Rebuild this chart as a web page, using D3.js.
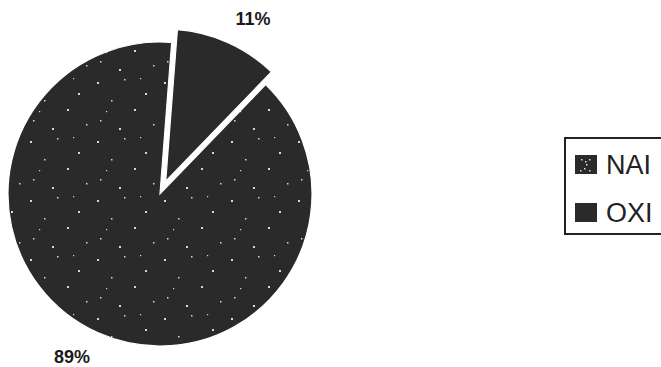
<!DOCTYPE html>
<html>
<head>
<meta charset="utf-8">
<script src="https://cdn.jsdelivr.net/npm/d3@7/dist/d3.min.js"></script>
<style>
  html, body { margin: 0; padding: 0; background: #fff; }
  svg { display: block; }
</style>
</head>
<body>
<svg id="chart" width="661" height="367"></svg>
<script>
// ---- data ----
const categories = ["OXI", "NAI"];
const values = [11, 89];
const labels = ["11%", "89%"];
const legendOrder = ["NAI", "OXI"];

// ---- layout ----
const W = 661, H = 367;
const cx = 160, cy = 194, R = 152;
const explodeOffset = 14;
const startDeg = 4.4;

const svg = d3.select("#chart");
const defs = svg.append("defs");

// sparse speckle pattern for NAI (pie)
const pat = defs.append("pattern")
  .attr("id", "speckle")
  .attr("patternUnits", "userSpaceOnUse")
  .attr("width", 67).attr("height", 59);
pat.append("rect").attr("width", 67).attr("height", 59).attr("fill", "#2a2a2a");
const dots = [[4,6,2],[31,3,1.5],[52,17,2],[18,24,1.5],[41,33,2],[7,44,1.5],[60,48,1.5],[26,52,2],[47,2,1.2],[13,35,1.2]];
pat.selectAll("rect.d").data(dots).enter().append("rect")
  .attr("class", "d")
  .attr("x", d => d[0]).attr("y", d => d[1])
  .attr("width", d => d[2]).attr("height", d => d[2])
  .attr("fill", "#d8d8d8");

// speckle pattern for the legend swatch
const pat2 = defs.append("pattern")
  .attr("id", "speckleSwatch")
  .attr("patternUnits", "objectBoundingBox")
  .attr("patternContentUnits", "userSpaceOnUse")
  .attr("width", 1).attr("height", 1);
pat2.append("rect").attr("width", 22).attr("height", 19).attr("fill", "#2a2a2a");
const swDots = [[6,4],[10,6],[14,4],[11,9],[9,13],[5,15],[14,15]];
pat2.selectAll("rect.d").data(swDots).enter().append("rect")
  .attr("class", "d")
  .attr("x", d => d[0]).attr("y", d => d[1])
  .attr("width", 1.5).attr("height", 1.5)
  .attr("fill", "#d8d8d8");

const fills = { OXI: "#2a2a2a", NAI: "url(#speckle)" };
const swatchFills = { OXI: "#2a2a2a", NAI: "url(#speckleSwatch)" };

const pie = d3.pie().sort(null).value(d => d.value)
  .startAngle(startDeg * Math.PI / 180)
  .endAngle(startDeg * Math.PI / 180 + 2 * Math.PI);
const data = categories.map((c, i) => ({ cat: c, value: values[i], label: labels[i] }));
const arcs = pie(data);
const arc = d3.arc().innerRadius(0).outerRadius(R);

const g = svg.append("g").attr("transform", `translate(${cx},${cy})`);
g.selectAll("path").data(arcs).enter().append("path")
  .attr("d", arc)
  .attr("fill", d => fills[d.data.cat])
  .attr("stroke", "#fff")
  .attr("stroke-width", 1.2)
  .attr("transform", d => {
    if (d.data.cat !== "OXI") return null;
    const a = (d.startAngle + d.endAngle) / 2;
    return `translate(${explodeOffset * Math.sin(a)},${-explodeOffset * Math.cos(a)})`;
  });

// percent labels
const labelPos = { OXI: [253, 25], NAI: [72, 363] };
svg.selectAll("text.pct").data(arcs).enter().append("text")
  .attr("class", "pct")
  .attr("x", d => labelPos[d.data.cat][0])
  .attr("y", d => labelPos[d.data.cat][1])
  .attr("text-anchor", "middle")
  .attr("font-family", "Liberation Sans, Arial, sans-serif")
  .attr("font-weight", "bold")
  .attr("font-size", 18)
  .attr("fill", "#1a1a1a")
  .text(d => d.data.label);

// legend
const lg = svg.append("g");
lg.append("rect")
  .attr("x", 565).attr("y", 138).attr("width", 130).attr("height", 96)
  .attr("fill", "#fff").attr("stroke", "#222").attr("stroke-width", 2);
const rowY = d3.scalePoint().domain(legendOrder).range([155, 203]);
const rows = lg.selectAll("g.row").data(legendOrder).enter().append("g").attr("class", "row");
rows.append("rect")
  .attr("x", 575).attr("y", d => rowY(d))
  .attr("width", 22).attr("height", 19)
  .attr("fill", d => swatchFills[d]);
rows.append("text")
  .attr("x", 606).attr("y", d => rowY(d) + 19)
  .attr("font-family", "Liberation Sans, Arial, sans-serif")
  .attr("font-size", 27)
  .attr("fill", "#222")
  .text(d => d);
</script>
</body>
</html>
